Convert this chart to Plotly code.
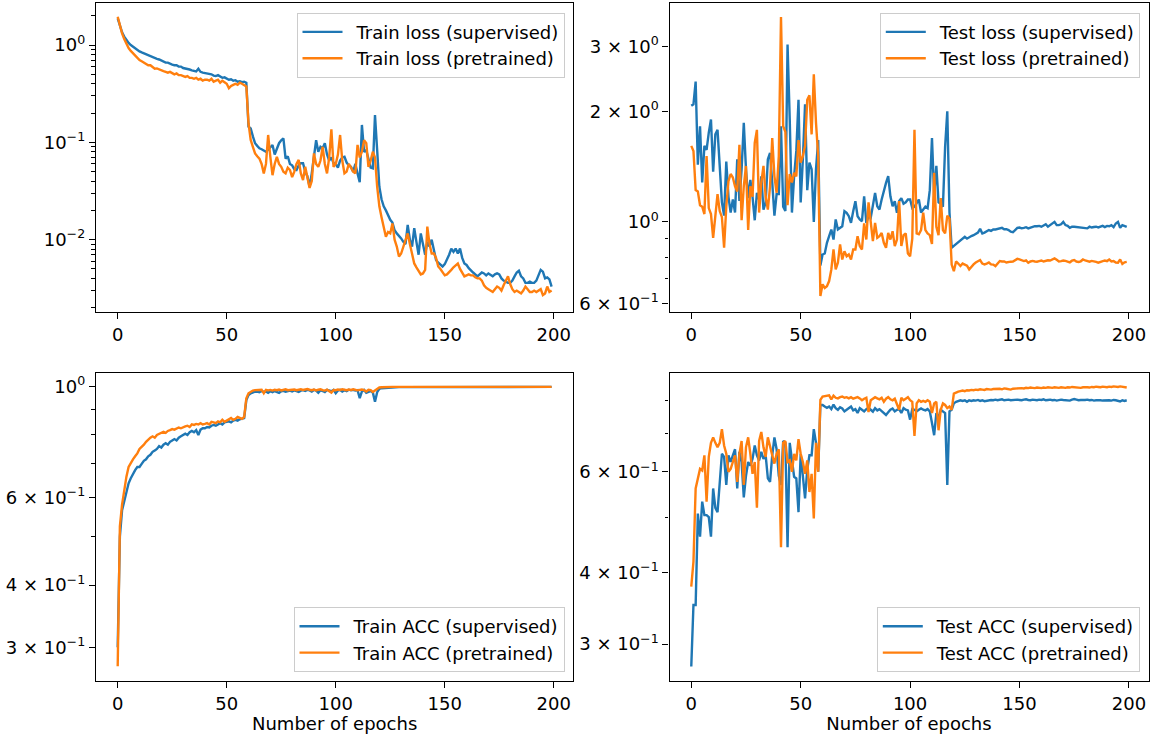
import plotly.graph_objects as go

# ---------------- data ----------------
epochs = list(range(200))

train_loss_sup = [
    1.88, 1.55, 1.35, 1.22, 1.12, 1.05, 1.00, 0.96, 0.92, 0.89,
    0.86, 0.84, 0.82, 0.80, 0.79, 0.77, 0.75, 0.74, 0.72, 0.71,
    0.69, 0.68, 0.66, 0.66, 0.64, 0.63, 0.62, 0.62, 0.60, 0.60,
    0.58, 0.575, 0.57, 0.56, 0.55, 0.54, 0.535, 0.57, 0.53, 0.52,
    0.515, 0.51, 0.50, 0.50, 0.485, 0.48, 0.49, 0.47, 0.46, 0.465,
    0.45, 0.44, 0.445, 0.43, 0.435, 0.42, 0.425, 0.415, 0.42, 0.41,
    0.145, 0.139, 0.115, 0.098, 0.092, 0.087, 0.085, 0.083, 0.080, 0.084,
    0.090, 0.094, 0.075, 0.085, 0.098, 0.105, 0.110, 0.068, 0.072, 0.060,
    0.058, 0.053, 0.052, 0.058, 0.061, 0.061, 0.050, 0.045, 0.035, 0.048,
    0.070, 0.105, 0.080, 0.090, 0.087, 0.098, 0.075, 0.065, 0.070, 0.061,
    0.060, 0.055, 0.065, 0.070, 0.071, 0.062, 0.058, 0.056, 0.050, 0.060,
    0.048, 0.039, 0.151, 0.080, 0.083, 0.065, 0.055, 0.054, 0.191, 0.083,
    0.035, 0.026, 0.022, 0.020, 0.018, 0.016, 0.015, 0.0125, 0.0116, 0.011,
    0.0103, 0.0095, 0.0090, 0.0142, 0.0100, 0.0085, 0.0131, 0.0095, 0.0070, 0.0116,
    0.0090, 0.0070, 0.0095, 0.0085, 0.0100, 0.0080, 0.0062, 0.0058, 0.0055, 0.0053,
    0.0056, 0.0062, 0.0070, 0.0081, 0.0075, 0.0081, 0.0072, 0.0081, 0.0065, 0.0057,
    0.0055, 0.0051, 0.0048, 0.0046, 0.0044, 0.0042, 0.0044, 0.0046, 0.0045, 0.0043,
    0.0045, 0.0043, 0.0042, 0.0044, 0.0045, 0.0044, 0.0040, 0.0038, 0.0037, 0.0036,
    0.0036, 0.0038, 0.0042, 0.0046, 0.0048, 0.0042, 0.0040, 0.0036, 0.0036, 0.0037,
    0.0036, 0.0036, 0.0038, 0.0044, 0.0049, 0.0047, 0.0040, 0.0041, 0.0039, 0.0033,
]
train_loss_pre = [
    1.95, 1.55, 1.32, 1.15, 1.02, 0.93, 0.87, 0.82, 0.78, 0.74,
    0.70, 0.68, 0.66, 0.64, 0.62, 0.62, 0.59, 0.57, 0.575, 0.56,
    0.55, 0.54, 0.53, 0.52, 0.53, 0.51, 0.50, 0.51, 0.49, 0.49,
    0.48, 0.47, 0.48, 0.46, 0.46, 0.45, 0.46, 0.44, 0.45, 0.43,
    0.44, 0.44, 0.43, 0.45, 0.42, 0.43, 0.44, 0.41, 0.43, 0.415,
    0.40, 0.36, 0.38, 0.39, 0.40, 0.39, 0.41, 0.40, 0.39, 0.375,
    0.157, 0.106, 0.090, 0.077, 0.072, 0.068, 0.060, 0.048, 0.060, 0.119,
    0.071, 0.046, 0.060, 0.071, 0.060, 0.056, 0.050, 0.048, 0.055, 0.052,
    0.044, 0.050, 0.060, 0.066, 0.048, 0.041, 0.056, 0.045, 0.034, 0.040,
    0.077, 0.060, 0.056, 0.065, 0.090, 0.060, 0.048, 0.070, 0.136, 0.056,
    0.060, 0.075, 0.119, 0.065, 0.048, 0.050, 0.060, 0.055, 0.050, 0.048,
    0.094, 0.070, 0.080, 0.105, 0.098, 0.056, 0.065, 0.080, 0.070, 0.035,
    0.022, 0.017, 0.0136, 0.0107, 0.012, 0.0116, 0.0147, 0.010, 0.0085, 0.0067,
    0.0072, 0.0085, 0.0100, 0.0116, 0.0090, 0.0072, 0.0057, 0.0052, 0.0048, 0.0044,
    0.0045, 0.0049, 0.0136, 0.0090, 0.0072, 0.0072, 0.0065, 0.0053, 0.0050, 0.0046,
    0.0043, 0.0044, 0.0046, 0.0049, 0.0052, 0.0055, 0.0057, 0.0050, 0.0045, 0.0042,
    0.0043, 0.0044, 0.0043, 0.0043, 0.0041, 0.0040, 0.0040, 0.0038, 0.0034, 0.0032,
    0.0031, 0.0030, 0.0029, 0.0031, 0.0033, 0.0032, 0.0030, 0.0034, 0.0038, 0.0042,
    0.0035, 0.0031, 0.0029, 0.0030, 0.0029, 0.0028, 0.0030, 0.0033, 0.0031, 0.0029,
    0.0029, 0.0030, 0.0029, 0.0030, 0.0031, 0.0027, 0.0028, 0.0033, 0.0029, 0.0030,
]
test_loss_sup = [
    2.07, 2.09, 2.41, 1.43, 1.82, 1.28, 1.61, 1.57, 1.75, 1.90,
    1.37, 1.73, 1.78, 1.42, 1.13, 1.04, 1.46, 1.17, 1.06, 1.15,
    1.06, 1.48, 1.14, 1.39, 1.86, 1.39, 1.16, 1.30, 1.17, 1.01,
    1.20, 1.15, 1.33, 1.08, 1.13, 1.48, 1.54, 1.28, 1.04, 1.19,
    1.19, 1.82, 1.10, 1.07, 3.04, 1.90, 1.06, 1.33, 1.56, 2.15,
    1.13, 1.48, 2.09, 1.22, 1.45, 1.39, 1.00, 1.39, 1.67, 0.76,
    0.815, 0.82, 0.877, 0.914, 0.953, 0.895, 1.015, 0.953, 0.963, 0.973,
    1.069, 1.058, 1.036, 0.994, 1.069, 1.138, 1.036, 1.015, 1.004, 1.174,
    0.994, 1.036, 1.025, 1.103, 1.199, 1.103, 1.080, 1.15, 1.224, 1.277,
    1.331, 1.174, 1.103, 1.138, 1.058, 1.14, 1.16, 1.12, 1.13, 1.15,
    1.15, 1.09, 1.10, 1.13, 1.15, 1.06, 1.08, 1.10, 1.09, 1.22,
    1.69, 1.18, 1.42, 1.13, 1.12, 1.10, 1.60, 2.00, 1.06, 0.85,
    0.86, 0.87, 0.88, 0.89, 0.90, 0.91, 0.90, 0.91, 0.915, 0.92,
    0.93, 0.935, 0.957, 0.93, 0.935, 0.945, 0.95, 0.945, 0.953, 0.953,
    0.955, 0.96, 0.963, 0.955, 0.955, 0.95, 0.94, 0.937, 0.95, 0.963,
    0.965, 0.96, 0.963, 0.967, 0.96, 0.965, 0.97, 0.973, 0.973, 0.975,
    0.97, 0.977, 0.985, 0.97, 0.98, 0.99, 1.0, 0.98, 0.98, 0.985,
    1.0, 0.98, 0.975, 0.963, 0.97, 0.97, 0.968, 0.965, 0.963, 0.963,
    0.963, 0.96, 0.97, 0.965, 0.968, 0.97, 0.966, 0.972, 0.975, 0.968,
    0.975, 0.973, 0.98, 0.968, 0.99, 1.0, 0.963, 0.98, 0.975, 0.969,
]
test_loss_pre = [
    1.61, 1.56, 1.22, 1.21, 1.11, 1.10, 1.05, 1.51, 1.09, 1.05,
    0.905, 1.06, 1.19, 1.07, 1.03, 0.85, 1.10, 1.29, 1.35, 1.32,
    1.25, 1.21, 1.62, 1.01, 1.25, 1.42, 0.95, 1.25, 1.17, 1.64,
    1.78, 1.06, 1.28, 1.42, 1.17, 1.08, 1.25, 1.69, 1.33, 1.20,
    1.51, 3.61, 1.82, 1.76, 1.11, 1.35, 1.28, 1.36, 1.33, 1.67,
    1.45, 1.51, 1.61, 2.15, 2.21, 1.73, 2.52, 1.86, 1.51, 0.628,
    0.676, 0.661, 0.668, 0.690, 0.742, 0.841, 0.742, 0.774, 0.868, 0.790,
    0.832, 0.806, 0.815, 0.790, 0.841, 0.841, 0.914, 0.859, 0.841, 0.99,
    0.895, 1.13, 0.994, 0.886, 0.994, 0.905, 0.914, 0.933, 0.877, 0.850,
    0.933, 0.895, 0.943, 0.859, 0.895, 1.14, 0.86, 0.92, 0.93, 0.82,
    0.806, 0.90, 1.78, 0.93, 0.925, 0.95, 1.06, 0.95, 0.93, 0.92,
    0.87, 1.36, 0.97, 0.92, 1.16, 0.95, 0.93, 1.04, 1.02, 0.765,
    0.734, 0.78, 0.77, 0.758, 0.77, 0.766, 0.76, 0.742, 0.755, 0.766,
    0.775, 0.78, 0.787, 0.77, 0.766, 0.77, 0.775, 0.766, 0.765, 0.758,
    0.77, 0.782, 0.78, 0.78, 0.775, 0.778, 0.779, 0.78, 0.785, 0.793,
    0.79, 0.787, 0.782, 0.785, 0.774, 0.78, 0.783, 0.78, 0.779, 0.782,
    0.785, 0.78, 0.783, 0.786, 0.785, 0.79, 0.795, 0.788, 0.78, 0.782,
    0.785, 0.783, 0.78, 0.776, 0.784, 0.787, 0.78, 0.778, 0.781, 0.79,
    0.785, 0.78, 0.779, 0.783, 0.782, 0.778, 0.774, 0.778, 0.78, 0.785,
    0.782, 0.79, 0.78, 0.782, 0.775, 0.774, 0.79, 0.768, 0.776, 0.778,
]
train_acc_sup = [
    0.30, 0.50, 0.565, 0.59, 0.62, 0.64, 0.655, 0.67, 0.68, 0.69,
    0.69, 0.70, 0.71, 0.715, 0.725, 0.73, 0.74, 0.745, 0.75, 0.76,
    0.755, 0.765, 0.77, 0.765, 0.775, 0.78, 0.785, 0.78, 0.79, 0.795,
    0.80, 0.805, 0.80, 0.81, 0.815, 0.81, 0.818, 0.80, 0.82, 0.825,
    0.825, 0.83, 0.828, 0.835, 0.838, 0.835, 0.84, 0.845, 0.84, 0.848,
    0.85, 0.852, 0.848, 0.855, 0.858, 0.855, 0.86, 0.862, 0.865, 0.94,
    0.962, 0.97, 0.975, 0.977, 0.978, 0.975, 0.98, 0.976, 0.978, 0.972,
    0.979, 0.975, 0.98, 0.977, 0.972, 0.979, 0.981, 0.977, 0.98, 0.982,
    0.978, 0.983, 0.98, 0.976, 0.982, 0.984, 0.98, 0.985, 0.983, 0.978,
    0.985, 0.982, 0.972, 0.984, 0.98, 0.975, 0.985, 0.983, 0.979, 0.985,
    0.97, 0.982, 0.985, 0.978, 0.984, 0.98, 0.986, 0.983, 0.985, 0.982,
    0.984, 0.948, 0.978, 0.985, 0.972, 0.976, 0.98, 0.974, 0.933, 0.975,
    0.99, 0.993, 0.994, 0.995, 0.996, 0.996, 0.997, 0.997, 0.997, 0.998,
    0.998, 0.998, 0.999, 0.998, 0.999, 0.999, 0.998, 0.999, 0.999, 0.999,
    0.999, 0.999, 0.999, 0.999, 0.999, 0.999, 0.999, 0.999, 0.999, 0.999,
    0.999, 0.999, 0.999, 0.999, 0.999, 0.999, 0.999, 0.999, 0.999, 0.999,
    0.999, 0.999, 0.999, 0.999, 0.999, 0.999, 0.999, 0.999, 0.999, 0.999,
    0.999, 0.999, 0.999, 0.999, 0.999, 0.999, 0.999, 0.999, 0.999, 0.999,
    0.999, 0.999, 0.999, 0.999, 0.999, 0.999, 0.999, 0.999, 0.999, 0.999,
    0.999, 0.999, 0.999, 0.999, 0.999, 0.999, 0.999, 0.999, 0.999, 0.999,
]
train_acc_pre = [
    0.275, 0.525, 0.58, 0.62, 0.66, 0.69, 0.705, 0.715, 0.725, 0.735,
    0.75, 0.757, 0.765, 0.775, 0.783, 0.79, 0.795, 0.79, 0.80, 0.805,
    0.81, 0.812, 0.808, 0.815, 0.818, 0.822, 0.82, 0.825, 0.828, 0.825,
    0.83, 0.832, 0.835, 0.83, 0.84, 0.838, 0.842, 0.84, 0.845, 0.84,
    0.842, 0.845, 0.84, 0.85, 0.848, 0.845, 0.852, 0.848, 0.858, 0.85,
    0.855, 0.86, 0.865, 0.858, 0.862, 0.87, 0.865, 0.862, 0.87, 0.948,
    0.97, 0.978, 0.982, 0.984, 0.985, 0.983, 0.986, 0.97, 0.985, 0.983,
    0.985, 0.982, 0.986, 0.984, 0.987, 0.983, 0.986, 0.988, 0.984, 0.986,
    0.985, 0.987, 0.984, 0.986, 0.988, 0.985, 0.987, 0.989, 0.986, 0.984,
    0.987, 0.983, 0.986, 0.988, 0.984, 0.982, 0.986, 0.979, 0.973, 0.985,
    0.984, 0.987, 0.985, 0.988, 0.986, 0.984, 0.987, 0.985, 0.988, 0.986,
    0.983, 0.985, 0.987, 0.984, 0.978, 0.986, 0.984, 0.976, 0.983, 0.99,
    0.996, 0.997, 0.998, 0.998, 0.998, 0.999, 0.999, 0.999, 0.999, 0.999,
    0.999, 0.999, 0.999, 0.999, 0.999, 0.999, 0.999, 0.999, 0.999, 0.999,
    0.999, 0.999, 0.999, 0.999, 0.999, 0.999, 0.999, 0.999, 0.999, 0.999,
    0.999, 0.999, 0.999, 0.999, 0.999, 0.999, 0.999, 0.999, 0.999, 0.999,
    0.999, 0.999, 0.999, 0.999, 0.999, 0.999, 0.999, 0.999, 0.999, 0.999,
    0.999, 0.999, 0.999, 0.999, 0.999, 0.999, 0.999, 0.999, 0.999, 0.999,
    0.999, 0.999, 0.999, 0.999, 0.999, 0.999, 0.999, 0.999, 0.999, 0.999,
    0.999, 0.999, 0.999, 0.999, 0.999, 0.999, 0.999, 0.999, 0.999, 0.999,
]
test_acc_sup = [
    0.274, 0.351, 0.351, 0.507, 0.462, 0.532, 0.504, 0.504, 0.50, 0.462,
    0.561, 0.519, 0.51, 0.584, 0.645, 0.637, 0.569, 0.641, 0.624, 0.641,
    0.657, 0.561, 0.65, 0.624, 0.541, 0.59, 0.624, 0.615, 0.632, 0.667,
    0.641, 0.628, 0.65, 0.632, 0.641, 0.584, 0.576, 0.641, 0.689, 0.657,
    0.59, 0.569, 0.679, 0.674, 0.443, 0.674, 0.628, 0.588, 0.584, 0.51,
    0.645, 0.59, 0.539, 0.605, 0.641, 0.641, 0.712, 0.674, 0.60, 0.785,
    0.785, 0.78, 0.776, 0.78, 0.772, 0.786, 0.775, 0.77, 0.778, 0.774,
    0.765, 0.77, 0.775, 0.78, 0.768, 0.772, 0.76, 0.775, 0.77, 0.765,
    0.772, 0.776, 0.77, 0.764, 0.775, 0.768, 0.772, 0.765, 0.76, 0.754,
    0.762, 0.77, 0.774, 0.765, 0.77, 0.772, 0.76, 0.775, 0.77, 0.768,
    0.74, 0.772, 0.77, 0.765, 0.77, 0.774, 0.77, 0.768, 0.772, 0.765,
    0.73, 0.695, 0.76, 0.745, 0.77, 0.765, 0.76, 0.569, 0.765, 0.77,
    0.79, 0.795, 0.798, 0.80, 0.798, 0.80, 0.795, 0.80, 0.798, 0.80,
    0.799, 0.801, 0.798, 0.80, 0.797, 0.799, 0.80, 0.801, 0.80, 0.802,
    0.80, 0.801, 0.803, 0.80, 0.801, 0.802, 0.80, 0.801, 0.803, 0.802,
    0.801, 0.80, 0.802, 0.803, 0.801, 0.80, 0.802, 0.801, 0.80, 0.802,
    0.801, 0.803, 0.80, 0.801, 0.802, 0.80, 0.801, 0.799, 0.801, 0.802,
    0.801, 0.80, 0.801, 0.799, 0.802, 0.804, 0.802, 0.80, 0.801, 0.80,
    0.801, 0.802, 0.80, 0.801, 0.799, 0.80, 0.801, 0.80, 0.799, 0.80,
    0.801, 0.80, 0.799, 0.801, 0.80, 0.798, 0.796, 0.80, 0.798, 0.80,
]
test_acc_pre = [
    0.378, 0.418, 0.561, 0.584, 0.607, 0.603, 0.641, 0.532, 0.637, 0.674,
    0.689, 0.674, 0.662, 0.674, 0.712, 0.667, 0.645, 0.60, 0.607, 0.624,
    0.641, 0.576, 0.645, 0.679, 0.569, 0.662, 0.689, 0.645, 0.595, 0.624,
    0.519, 0.679, 0.704, 0.662, 0.637, 0.689, 0.662, 0.641, 0.62, 0.645,
    0.657, 0.443, 0.674, 0.679, 0.624, 0.628, 0.60, 0.645, 0.628, 0.684,
    0.645, 0.624, 0.595, 0.628, 0.553, 0.595, 0.497, 0.674, 0.60, 0.801,
    0.812, 0.813, 0.815, 0.816, 0.803, 0.815, 0.808, 0.806, 0.81, 0.812,
    0.808, 0.81, 0.806, 0.81, 0.805, 0.808, 0.81, 0.806, 0.80, 0.805,
    0.808, 0.763, 0.80, 0.805, 0.81, 0.806, 0.803, 0.808, 0.795, 0.805,
    0.81, 0.803, 0.80, 0.805, 0.79, 0.77, 0.808, 0.80, 0.805, 0.81,
    0.80, 0.795, 0.693, 0.79, 0.80, 0.795, 0.798, 0.795, 0.80, 0.795,
    0.76, 0.79, 0.795, 0.709, 0.77, 0.79, 0.785, 0.775, 0.78, 0.77,
    0.822, 0.826, 0.828, 0.83, 0.832, 0.83, 0.833, 0.832, 0.834, 0.833,
    0.835, 0.834, 0.836, 0.835, 0.834, 0.837, 0.836, 0.835, 0.837, 0.838,
    0.837, 0.838, 0.836, 0.839, 0.838, 0.837, 0.835, 0.838, 0.839, 0.84,
    0.841, 0.84, 0.839, 0.841, 0.84, 0.842, 0.841, 0.84, 0.842, 0.841,
    0.84, 0.842, 0.841, 0.843, 0.842, 0.841, 0.843, 0.842, 0.841, 0.843,
    0.842, 0.841, 0.843, 0.842, 0.844, 0.843, 0.842, 0.843, 0.841, 0.843,
    0.844, 0.843, 0.842, 0.844, 0.843, 0.845, 0.844, 0.843, 0.845, 0.844,
    0.843, 0.845, 0.844, 0.846, 0.845, 0.844, 0.846, 0.845, 0.844, 0.842,
]

x_tick_vals = [0, 50, 100, 150, 200]

tl_tick_vals = [1, 0.1, 0.01]
tl_tick_text = ["10<sup>0</sup>", "10<sup>\u22121</sup>", "10<sup>\u22122</sup>"]
tl_minor = [0.002, 0.003, 0.004, 0.005, 0.006, 0.007, 0.008, 0.009,
            0.02, 0.03, 0.04, 0.05, 0.06, 0.07, 0.08, 0.09,
            0.2, 0.3, 0.4, 0.5, 0.6, 0.7, 0.8, 0.9, 2]

tr_tick_vals = [3, 2, 1, 0.6]
tr_tick_text = ["3 \u00d7 10<sup>0</sup>", "2 \u00d7 10<sup>0</sup>", "10<sup>0</sup>",
                "6 \u00d7 10<sup>\u22121</sup>"]
tr_minor = [0.7, 0.8, 0.9]

bl_tick_vals = [1, 0.6, 0.4, 0.3]
bl_tick_text = ["10<sup>0</sup>", "6 \u00d7 10<sup>\u22121</sup>", "4 \u00d7 10<sup>\u22121</sup>",
                "3 \u00d7 10<sup>\u22121</sup>"]
bl_minor = [0.5, 0.7, 0.8, 0.9]

br_tick_vals = [0.6, 0.4, 0.3]
br_tick_text = ["6 \u00d7 10<sup>\u22121</sup>", "4 \u00d7 10<sup>\u22121</sup>",
                "3 \u00d7 10<sup>\u22121</sup>"]
br_minor = [0.5, 0.7, 0.8]

# ---------------- styling ----------------
BLUE = "#1f77b4"
ORANGE = "#ff7f0e"
FONT = "DejaVu Sans"
FS = 18
W, H = 1150, 737

def px_x(p):
    return p / W

def px_y(p):
    return 1 - p / H

left_dom = [px_x(96), px_x(573.3)]
right_dom = [px_x(669.5), px_x(1148.5)]
top_dom = [px_y(311.7), px_y(3.3)]
bot_dom = [px_y(680.7), px_y(373.3)]

fig = go.Figure()

PAD = "\u2002"
panels = [
    ("x", "y", train_loss_sup, train_loss_pre, "Train loss (supervised)", "Train loss (pretrained)", "legend"),
    ("x2", "y2", test_loss_sup, test_loss_pre, "Test loss (supervised)", "Test loss (pretrained)", "legend2"),
    ("x3", "y3", train_acc_sup, train_acc_pre, "Train ACC (supervised)", "Train ACC (pretrained)", "legend3"),
    ("x4", "y4", test_acc_sup, test_acc_pre, "Test ACC (supervised)", "Test ACC (pretrained)", "legend4"),
]
for xa, ya, s_sup, s_pre, n_sup, n_pre, lg in panels:
    fig.add_trace(go.Scatter(x=epochs, y=s_sup, mode="lines", name=PAD + n_sup,
                             line=dict(color=BLUE, width=2.4), xaxis=xa, yaxis=ya,
                             legend=lg, legendgroup=n_sup))
    fig.add_trace(go.Scatter(x=epochs, y=s_pre, mode="lines", name=PAD + n_pre,
                             line=dict(color=ORANGE, width=2.4), xaxis=xa, yaxis=ya,
                             legend=lg, legendgroup=n_pre))

def xaxis(domain, anchor, title):
    d = dict(domain=domain, anchor=anchor, range=[-9.95, 208.95], automargin=False,
             tickmode="array", tickvals=x_tick_vals,
             ticks="outside", ticklen=6, tickwidth=1.4, tickcolor="black",
             showline=True, linecolor="black", linewidth=1.4, mirror=True,
             showgrid=False, zeroline=False,
             tickfont=dict(family=FONT, size=FS, color="black"))
    if title:
        d["title"] = dict(text=title, font=dict(family=FONT, size=FS, color="black"), standoff=4)
    return d

def yaxis(domain, anchor, rng, tv, tt, minor):
    return dict(domain=domain, anchor=anchor, type="log", range=rng, automargin=False,
                tickmode="array", tickvals=tv, ticktext=tt,
                ticks="outside", ticklen=6, tickwidth=1.4, tickcolor="black",
                minor=dict(tickmode="array", tickvals=minor, ticks="outside",
                           ticklen=3.5, tickwidth=1.05, tickcolor="black", showgrid=False),
                showline=True, linecolor="black", linewidth=1.4, mirror=True,
                showgrid=False, zeroline=False,
                tickfont=dict(family=FONT, size=FS, color="black"))

def legend(x, y, yanchor):
    return dict(x=x, y=y, xanchor="right", yanchor=yanchor,
                xref="paper", yref="paper",
                bgcolor="rgba(255,255,255,0.8)", bordercolor="#cccccc", borderwidth=1,
                font=dict(family=FONT, size=FS, color="black"),
                tracegroupgap=0, itemwidth=40)

fig.update_layout(
    width=W, height=H,
    margin=dict(l=0, r=0, t=0, b=0, autoexpand=False),
    paper_bgcolor="white", plot_bgcolor="white",
    font=dict(family=FONT, size=FS, color="black"),
    hovermode=False,
    xaxis=xaxis(left_dom, "y", None),
    yaxis=yaxis(top_dom, "x", [-2.740, 0.4286], tl_tick_vals, tl_tick_text, tl_minor),
    xaxis2=xaxis(right_dom, "y2", None),
    yaxis2=yaxis(top_dom, "x2", [-0.2446, 0.595], tr_tick_vals, tr_tick_text, tr_minor),
    xaxis3=xaxis(left_dom, "y3", "Number of epochs"),
    yaxis3=yaxis(bot_dom, "x3", [-0.5897, 0.0268], bl_tick_vals, bl_tick_text, bl_minor),
    xaxis4=xaxis(right_dom, "y4", "Number of epochs"),
    yaxis4=yaxis(bot_dom, "x4", [-0.587, -0.0498], br_tick_vals, br_tick_text, br_minor),
    legend=legend(px_x(564.5), px_y(12.7), "top"),
    legend2=legend(px_x(1139.8), px_y(12.7), "top"),
    legend3=legend(px_x(564.5), px_y(672), "bottom"),
    legend4=legend(px_x(1139.8), px_y(672), "bottom"),
    showlegend=True,
)

fig.write_html(
    "out.html",
    config={"displayModeBar": False},
    post_script="document.body.style.margin='0';document.body.style.padding='0';"
                "document.body.style.overflow='hidden';",
)
